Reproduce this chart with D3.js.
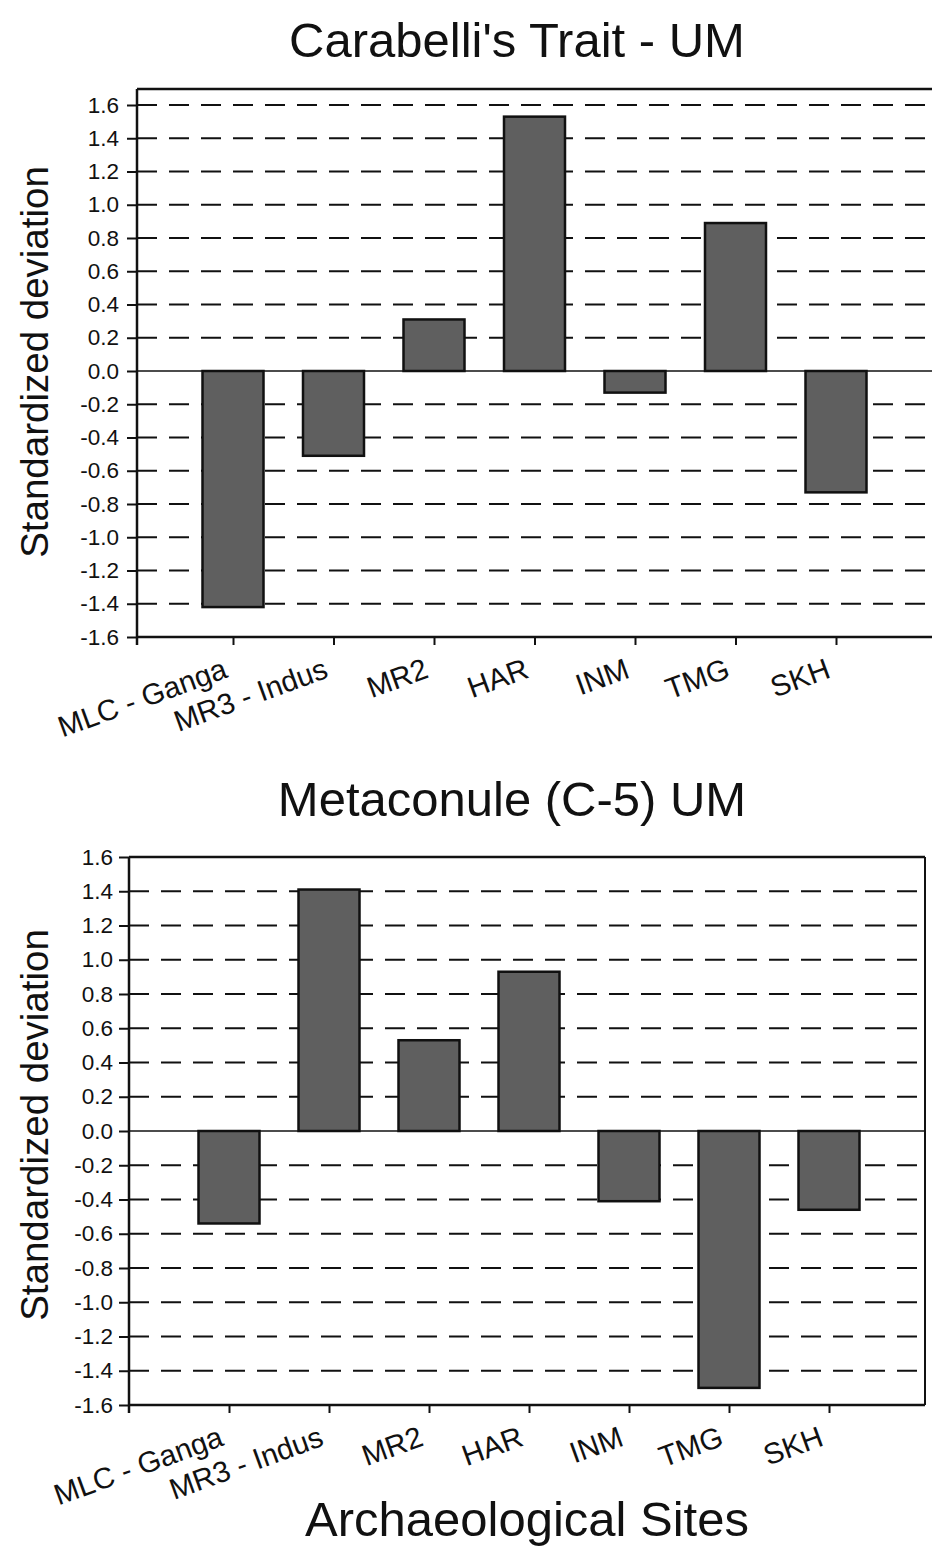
<!DOCTYPE html>
<html>
<head>
<meta charset="UTF-8">
<title>Carabelli's Trait / Metaconule</title>
<script src="https://cdn.jsdelivr.net/npm/d3@7"></script>
<style>
  body { margin: 0; background: #fff; }
  svg { display: block; }
  text { font-family: "Liberation Sans", Arial, sans-serif; fill: #111; }
</style>
</head>
<body>
<div id="chart"></div>
<script>
// 数据
var sites = ["MLC - Ganga", "MR3 - Indus", "MR2", "HAR", "INM", "TMG", "SKH"];
var carabelliValues = [-1.42, -0.51, 0.31, 1.53, -0.13, 0.89, -0.73];
var metaconuleValues = [-0.54, 1.41, 0.53, 0.93, -0.41, -1.50, -0.46];
var yTicks = [-1.6, -1.4, -1.2, -1.0, -0.8, -0.6, -0.4, -0.2, 0.0, 0.2, 0.4, 0.6, 0.8, 1.0, 1.2, 1.4, 1.6];

var width = 932, height = 1548;
var barWidth = 61;
var fontFam = "'Liberation Sans', Arial, sans-serif";

var svg = d3.select("#chart").append("svg")
  .attr("width", width)
  .attr("height", height);

// 刻度格式：用普通连字符
function fmt(d) {
  return d3.format(".1f")(d).replace("\u2212", "-");
}

function drawChart(cfg) {
  var g = svg.append("g");

  var x = d3.scalePoint()
    .domain(sites)
    .range([cfg.firstX, cfg.lastX]);

  var y = d3.scaleLinear()
    .domain([-1.6, 1.6])
    .range([cfg.bottom, cfg.top16]);

  // title
  g.append("text")
    .attr("x", cfg.titleX)
    .attr("y", cfg.titleY)
    .attr("text-anchor", "middle")
    .attr("font-size", "49px")
    .text(cfg.title);

  // y axis title
  g.append("text")
    .attr("transform", "translate(48," + cfg.yTitleY + ") rotate(-90)")
    .attr("text-anchor", "middle")
    .attr("font-size", "38.5px")
    .text("Standardized deviation");

  // dashed grid lines (not at 0 and not at the box edge)
  g.selectAll("line.grid")
    .data(yTicks.filter(function(d) {
      return d !== 0 && d !== -1.6 && y(d) > cfg.boxTop + 1;
    }))
    .enter().append("line")
    .attr("class", "grid")
    .attr("x1", cfg.left)
    .attr("x2", cfg.right)
    .attr("y1", function(d) { return y(d); })
    .attr("y2", function(d) { return y(d); })
    .attr("stroke", "#111")
    .attr("stroke-width", 2)
    .attr("stroke-dasharray", "20,12");

  // box top and right
  g.append("line")
    .attr("x1", cfg.left).attr("x2", cfg.right)
    .attr("y1", cfg.boxTop).attr("y2", cfg.boxTop)
    .attr("stroke", "#111").attr("stroke-width", 2.5);
  g.append("line")
    .attr("x1", cfg.right).attr("x2", cfg.right)
    .attr("y1", cfg.boxTop).attr("y2", cfg.bottom)
    .attr("stroke", "#111").attr("stroke-width", 2);

  // bars
  g.selectAll("rect.bar")
    .data(cfg.values)
    .enter().append("rect")
    .attr("class", "bar")
    .attr("x", function(d, i) { return x(sites[i]) - barWidth / 2; })
    .attr("y", function(d) { return y(Math.max(0, d)); })
    .attr("width", barWidth)
    .attr("height", function(d) { return Math.abs(y(d) - y(0)); })
    .attr("fill", "#5f5f5f")
    .attr("stroke", "#111")
    .attr("stroke-width", 2.5);

  // zero line
  g.append("line")
    .attr("x1", cfg.left).attr("x2", cfg.right)
    .attr("y1", y(0)).attr("y2", y(0))
    .attr("stroke", "#111").attr("stroke-width", 1.6);

  // y axis
  var yAxis = d3.axisLeft(y)
    .tickValues(yTicks)
    .tickFormat(fmt)
    .tickSize(10)
    .tickPadding(cfg.tickPad);
  var ya = g.append("g")
    .attr("transform", "translate(" + cfg.left + ",0)")
    .call(yAxis);
  ya.attr("font-family", fontFam).attr("font-size", 22.5);
  ya.select(".domain").remove();
  ya.selectAll(".tick line").attr("stroke", "#111").attr("stroke-width", 2);
  ya.selectAll(".tick text").attr("fill", "#111");
  g.append("line")
    .attr("x1", cfg.left).attr("x2", cfg.left)
    .attr("y1", cfg.boxTop).attr("y2", cfg.bottom + 8)
    .attr("stroke", "#111").attr("stroke-width", 2.5);

  // x axis
  var xAxis = d3.axisBottom(x)
    .tickSize(8)
    .tickFormat("");
  var xa = g.append("g")
    .attr("transform", "translate(0," + cfg.bottom + ")")
    .call(xAxis);
  xa.select(".domain").remove();
  xa.selectAll(".tick line").attr("stroke", "#111").attr("stroke-width", 2);
  g.append("line")
    .attr("x1", cfg.left).attr("x2", cfg.right)
    .attr("y1", cfg.bottom).attr("y2", cfg.bottom)
    .attr("stroke", "#111").attr("stroke-width", 2.5);

  // category labels, rotated
  g.selectAll("text.cat")
    .data(sites)
    .enter().append("text")
    .attr("class", "cat")
    .attr("text-anchor", "end")
    .attr("font-size", "29.5px")
    .attr("transform", function(d) {
      return "translate(" + (x(d) - 4) + "," + (cfg.bottom + 40) + ") rotate(-20)";
    })
    .text(function(d) { return d; });
}

drawChart({
  title: "Carabelli's Trait - UM",
  titleX: 517, titleY: 57,
  yTitleY: 362,
  values: carabelliValues,
  left: 137, right: 950,
  firstX: 233, lastX: 836,
  boxTop: 89, top16: 105, bottom: 637,
  tickPad: 8
});

drawChart({
  title: "Metaconule (C-5) UM",
  titleX: 512, titleY: 816,
  yTitleY: 1125,
  values: metaconuleValues,
  left: 129, right: 925,
  firstX: 229, lastX: 829,
  boxTop: 857, top16: 857, bottom: 1405,
  tickPad: 6
});

svg.append("text")
  .attr("x", 527)
  .attr("y", 1536)
  .attr("text-anchor", "middle")
  .attr("font-size", "49px")
  .text("Archaeological Sites");
</script>
</body>
</html>
